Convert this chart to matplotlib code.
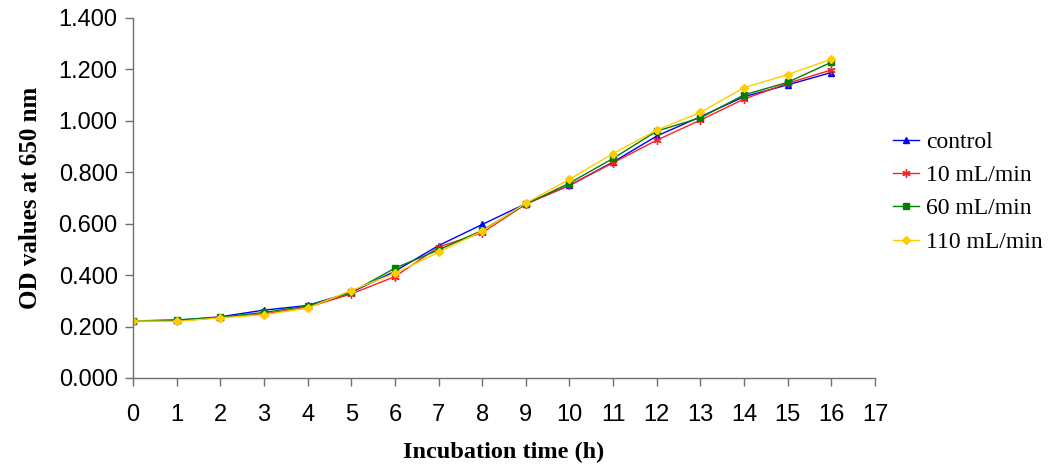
import matplotlib

matplotlib.use("Agg")
import matplotlib.pyplot as plt
from matplotlib.ticker import FormatStrFormatter, MultipleLocator

# Incubation time (h) and OD readings at 650 nm
hours = list(range(17))
control = [0.222, 0.224, 0.238, 0.264, 0.282, 0.333, 0.415, 0.515, 0.597,
           0.678, 0.749, 0.840, 0.941, 1.016, 1.094, 1.140, 1.188]
flow_10 = [0.222, 0.222, 0.235, 0.249, 0.275, 0.327, 0.394, 0.509, 0.565,
           0.676, 0.749, 0.837, 0.925, 1.003, 1.085, 1.146, 1.198]
flow_60 = [0.222, 0.226, 0.236, 0.255, 0.280, 0.333, 0.427, 0.498, 0.574,
           0.676, 0.758, 0.854, 0.960, 1.012, 1.101, 1.150, 1.228]
flow_110 = [0.222, 0.220, 0.234, 0.246, 0.272, 0.340, 0.407, 0.489, 0.571,
            0.680, 0.773, 0.873, 0.964, 1.033, 1.129, 1.180, 1.240]

series = [
    ("control", control, "#0000FF", "^", 5),
    ("10 mL/min", flow_10, "#FF2020", (6, 2, 0), 6),
    ("60 mL/min", flow_60, "#008000", "s", 4.5),
    ("110 mL/min", flow_110, "#FFCC00", "D", 4.5),
]

fig = plt.figure(figsize=(10.54, 4.66), dpi=100)
ax = fig.add_axes([133 / 1054, 88 / 466, (875 - 133) / 1054, (378 - 18) / 466])

for label, vals, color, marker, ms in series:
    ax.plot(hours, vals, color=color, lw=1.0, marker=marker, ms=ms,
            mec=color, mfc=color, mew=1.0, label=label)

ax.set_xlim(0, 17)
ax.set_ylim(0, 1.4)
ax.xaxis.set_major_locator(MultipleLocator(1))
ax.yaxis.set_major_locator(MultipleLocator(0.2))
ax.yaxis.set_major_formatter(FormatStrFormatter("%.3f"))

ax.spines["top"].set_visible(False)
ax.spines["right"].set_visible(False)
for side in ("left", "bottom"):
    ax.spines[side].set_color("#707070")
    ax.spines[side].set_linewidth(1.0)
ax.tick_params(axis="both", colors="#707070", length=6, width=1.0,
               labelcolor="black", labelsize=17)
ax.tick_params(axis="x", pad=13)
ax.tick_params(axis="y", pad=5)
for lab in ax.get_xticklabels() + ax.get_yticklabels():
    lab.set_family("Liberation Sans")

ax.set_xlabel("Incubation time (h)", labelpad=11, family="Liberation Serif",
              weight="bold", size=17.5)
ax.set_ylabel("OD values at 650 nm", labelpad=12, family="Liberation Serif",
              weight="bold", size=18)

leg = fig.legend(loc="center left", bbox_to_anchor=(893 / 1054, 1 - 192 / 466),
                 frameon=False, borderpad=0, borderaxespad=0,
                 handlelength=1.1, handletextpad=0.3, labelspacing=0.5,
                 prop={"family": "Liberation Serif", "size": 17})

fig.savefig("out.png", dpi=100)
plt.close(fig)
